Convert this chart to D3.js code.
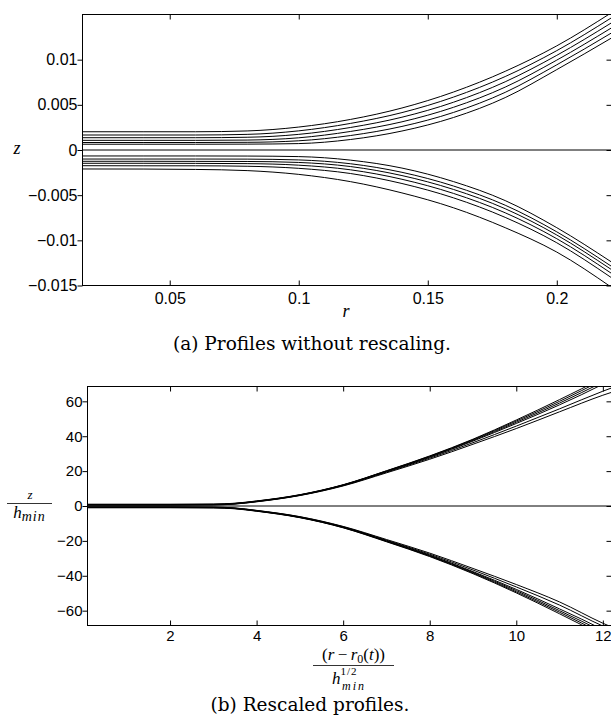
<!DOCTYPE html>
<html><head><meta charset="utf-8">
<script src="https://cdn.jsdelivr.net/npm/d3@7/dist/d3.min.js"></script>
<style>body{margin:0;background:#fff}svg{display:block}</style>
</head><body>
<svg id="c" width="611" height="725"></svg>
<script>
// ---------- Panel (a) data ----------
const rTop = [0.0162, 0.04, 0.06, 0.08, 0.1, 0.12, 0.14, 0.16, 0.18, 0.2, 0.2212];
const topUpper1 = [0.00202, 0.00202, 0.00202, 0.00211, 0.00254, 0.00338, 0.00465, 0.00642, 0.00871, 0.01153, 0.0152];
const topUpper2 = [0.00166, 0.00166, 0.00166, 0.00173, 0.00212, 0.00294, 0.00414, 0.00586, 0.00813, 0.0110, 0.01464];
const topUpper3 = [0.00136, 0.00136, 0.00136, 0.00141, 0.00173, 0.00249, 0.00363, 0.00529, 0.00755, 0.01048, 0.01408];
const topUpper4 = [0.00107, 0.00107, 0.00107, 0.0011, 0.00135, 0.00205, 0.00312, 0.00473, 0.00696, 0.00995, 0.01352];
const topUpper5 = [0.00083, 0.00083, 0.00083, 0.00085, 0.00102, 0.0016, 0.00261, 0.00416, 0.00638, 0.00943, 0.01296];
const topUpper6 = [0.00064, 0.00064, 0.00064, 0.00065, 0.00071, 0.00116, 0.0021, 0.0036, 0.0058, 0.0089, 0.0124];
const topLower1 = [-0.0021, -0.00211, -0.00215, -0.00228, -0.0027, -0.0035, -0.00475, -0.0064, -0.0086, -0.0113, -0.0152];
const topLower2 = [-0.00174, -0.00175, -0.00175, -0.0018, -0.00203, -0.0026, -0.00371, -0.0053, -0.00746, -0.01027, -0.01414];
const topLower3 = [-0.00147, -0.00147, -0.00148, -0.00151, -0.00168, -0.00219, -0.00324, -0.00481, -0.00695, -0.00982, -0.01366];
const topLower4 = [-0.00125, -0.00125, -0.00126, -0.00127, -0.00138, -0.00183, -0.00283, -0.00437, -0.0065, -0.00941, -0.01324];
const topLower5 = [-0.001, -0.001, -0.001, -0.00101, -0.0011, -0.00152, -0.00247, -0.00399, -0.00611, -0.00906, -0.01288];
const topLower6 = [-0.00066, -0.00066, -0.00066, -0.00067, -0.00073, -0.00112, -0.002, -0.0035, -0.0056, -0.0086, -0.0124];
const xTicksTop = [0.05, 0.1, 0.15, 0.2];
const xTickLabelsTop = ["0.05", "0.1", "0.15", "0.2"];
const yTicksTop = [-0.015, -0.01, -0.005, 0, 0.005, 0.01];
const yTickLabelsTop = ["\u22120.015", "\u22120.01", "\u22120.005", "0", "0.005", "0.01"];

// ---------- Panel (b) data ----------
const xBot = [0.093, 2, 3, 3.5, 4, 5, 6, 7, 8, 9, 10, 11, 12, 12.4];
const botUpper1 = [1.0, 1.0, 1.1, 1.6, 2.9, 6.5, 12.2, 20.2, 28.7, 38.3, 49.3, 61.0, 73.5, 79];
const botUpper2 = [0.9, 0.9, 1.0, 1.5, 2.8, 6.4, 12.1, 20.1, 28.5, 38.0, 48.7, 60.0, 72.3, 77.5];
const botUpper3 = [0.8, 0.8, 0.9, 1.4, 2.7, 6.3, 12.0, 19.9, 28.2, 37.6, 48.0, 59.0, 71.0, 76];
const botUpper4 = [0.7, 0.7, 0.8, 1.3, 2.6, 6.2, 11.9, 19.7, 27.9, 37.2, 47.3, 58.0, 69.8, 75];
const botUpper5 = [0.6, 0.6, 0.7, 1.2, 2.5, 6.1, 11.7, 19.4, 27.4, 36.3, 45.8, 55.7, 65.8, 69.5];
const botUpper6 = [0.5, 0.5, 0.6, 1.1, 2.4, 6.0, 11.5, 19.0, 26.8, 35.4, 44.4, 54.0, 63.5, 66.8];
const botLower1 = [-1.0, -1.0, -1.1, -1.6, -3.0, -6.7, -12.5, -20.5, -29.0, -38.8, -49.8, -61.8, -74.5, -80];
const botLower2 = [-0.9, -0.9, -1.0, -1.5, -2.9, -6.6, -12.4, -20.3, -28.7, -38.4, -49.2, -60.9, -73.3, -78.5];
const botLower3 = [-0.8, -0.8, -0.9, -1.4, -2.8, -6.5, -12.2, -20.1, -28.4, -38.0, -48.5, -60.0, -72.0, -77];
const botLower4 = [-0.7, -0.7, -0.8, -1.3, -2.7, -6.4, -12.1, -19.9, -28.1, -37.6, -47.8, -59.0, -70.8, -76];
const botLower5 = [-0.6, -0.6, -0.7, -1.2, -2.6, -6.2, -11.9, -19.6, -27.6, -36.7, -46.4, -56.8, -68.8, -73];
const botLower6 = [-0.5, -0.5, -0.6, -1.1, -2.5, -6.1, -11.7, -19.2, -27.0, -35.8, -45.0, -55.0, -67.2, -71.5];
const xTicksBot = [2, 4, 6, 8, 10, 12];
const xTickLabelsBot = ["2", "4", "6", "8", "10", "12"];
const yTicksBot = [-60, -40, -20, 0, 20, 40, 60];
const yTickLabelsBot = ["\u221260", "\u221240", "\u221220", "0", "20", "40", "60"];

const svg = d3.select("#c");
const SANS = "'Liberation Sans', Arial, Helvetica, sans-serif";
const SERIF = "'DejaVu Serif', serif";
const MATH = "'Liberation Serif', 'Times New Roman', serif";

function panel(id, box, xDom, yDom, xs, series, xT, xTL, yT, yTL, fs, padB) {
  const x = d3.scaleLinear().domain(xDom).range([box.l, box.r]);
  const y = d3.scaleLinear().domain(yDom).range([box.b, box.t]);
  svg.append("clipPath").attr("id", id).append("rect")
    .attr("x", box.l).attr("y", box.t).attr("width", box.r - box.l).attr("height", box.b - box.t);
  const g = svg.append("g").attr("clip-path", `url(#${id})`);
  const line = d3.line().x(d => x(d[0])).y(d => y(d[1])).curve(d3.curveMonotoneX);
  series.forEach(s => {
    g.append("path").attr("d", line(xs.map((v, i) => [v, s[i]])))
      .attr("fill", "none").attr("stroke", "#000").attr("stroke-width", 1);
  });
  g.append("path").attr("d", line([[xDom[0], 0], [xDom[1], 0]]))
    .attr("fill", "none").attr("stroke", "#000").attr("stroke-width", 1);

  const style = a => {
    a.select(".domain").remove();
    a.selectAll("line").attr("stroke", "#000");
    a.selectAll("text").attr("font-family", SANS).attr("font-size", fs).attr("fill", "#000");
  };
  svg.append("g").attr("transform", `translate(0,${box.b})`)
    .call(d3.axisBottom(x).tickValues(xT).tickFormat((d, i) => xTL[i]).tickSize(-5).tickPadding(padB))
    .call(style);
  svg.append("g").attr("transform", `translate(0,${box.t})`)
    .call(d3.axisTop(x).tickValues(xT).tickFormat("").tickSize(-5)).call(style);
  svg.append("g").attr("transform", `translate(${box.l},0)`)
    .call(d3.axisLeft(y).tickValues(yT).tickFormat((d, i) => yTL[i]).tickSize(5).tickPadding(0))
    .call(style);
  svg.append("g").attr("transform", `translate(${box.r},0)`)
    .call(d3.axisRight(y).tickValues(yT).tickFormat("").tickSize(-5)).call(style);
  svg.append("rect").attr("x", box.l).attr("y", box.t)
    .attr("width", box.r - box.l).attr("height", box.b - box.t)
    .attr("fill", "none").attr("stroke", "#000").attr("stroke-width", 1);
}

panel("clipA", {l: 82.5, t: 14.5, r: 611.5, b: 285.5}, [0.0162, 0.2212], [-0.015, 0.015], rTop,
  [topUpper1, topUpper2, topUpper3, topUpper4, topUpper5, topUpper6,
   topLower1, topLower2, topLower3, topLower4, topLower5, topLower6],
  xTicksTop, xTickLabelsTop, yTicksTop, yTickLabelsTop, 16, 7);

panel("clipB", {l: 87.5, t: 386.5, r: 611.5, b: 625.5}, [0.093, 12.2], [-68.5, 68.5], xBot,
  [botUpper1, botUpper2, botUpper3, botUpper4, botUpper5, botUpper6,
   botLower1, botLower2, botLower3, botLower4, botLower5, botLower6],
  xTicksBot, xTickLabelsBot, yTicksBot, yTickLabelsBot, 15, 5);

// ---------- labels panel (a) ----------
svg.append("text").attr("x", 17).attr("y", 154).attr("text-anchor", "middle")
  .attr("font-family", MATH).attr("font-style", "italic").attr("font-size", 18).text("z");
svg.append("text").attr("x", 346).attr("y", 317).attr("text-anchor", "middle")
  .attr("font-family", MATH).attr("font-style", "italic").attr("font-size", 18).text("r");
svg.append("text").attr("x", 312).attr("y", 350).attr("text-anchor", "middle")
  .attr("font-family", SERIF).attr("font-size", 18.5).text("(a) Profiles without rescaling.");

// ---------- labels panel (b) ----------
svg.append("text").attr("x", 30).attr("y", 499).attr("text-anchor", "middle")
  .attr("font-family", MATH).attr("font-style", "italic").attr("font-size", 13).text("z");
svg.append("line").attr("x1", 7).attr("x2", 52).attr("y1", 503.5).attr("y2", 503.5)
  .attr("stroke", "#000").attr("stroke-width", 0.8);
const dl = svg.append("text").attr("x", 29.5).attr("y", 518).attr("text-anchor", "middle")
  .attr("font-family", MATH).attr("font-style", "italic").attr("font-size", 17);
dl.append("tspan").text("h");
dl.append("tspan").attr("font-size", 14).attr("dy", 3).attr("letter-spacing", 1).text("min");

const nl = svg.append("text").attr("x", 353.5).attr("y", 660).attr("text-anchor", "middle")
  .attr("font-family", MATH).attr("font-size", 17);
nl.append("tspan").text("(");
nl.append("tspan").attr("font-style", "italic").text("r");
nl.append("tspan").text("\u2009\u2212\u2009");
nl.append("tspan").attr("font-style", "italic").text("r");
nl.append("tspan").attr("font-size", 12).attr("dy", 3).text("0");
nl.append("tspan").attr("dy", -3).text("(");
nl.append("tspan").attr("font-style", "italic").text("t");
nl.append("tspan").text("))");
svg.append("line").attr("x1", 313).attr("x2", 394).attr("y1", 665.5).attr("y2", 665.5)
  .attr("stroke", "#000").attr("stroke-width", 0.8);
const hl = svg.append("text").attr("x", 332).attr("y", 684)
  .attr("font-family", MATH).attr("font-size", 17);
hl.append("tspan").attr("font-style", "italic").text("h");
hl.append("tspan").attr("font-size", 11).attr("dy", -9).attr("letter-spacing", 1).text("1/2");
hl.append("tspan").attr("font-size", 12).attr("font-style", "italic").attr("letter-spacing", 2)
  .attr("x", 342).attr("dy", 15).text("min");

svg.append("text").attr("x", 310).attr("y", 711).attr("text-anchor", "middle")
  .attr("font-family", SERIF).attr("font-size", 18.5).text("(b) Rescaled profiles.");
</script>
</body></html>
